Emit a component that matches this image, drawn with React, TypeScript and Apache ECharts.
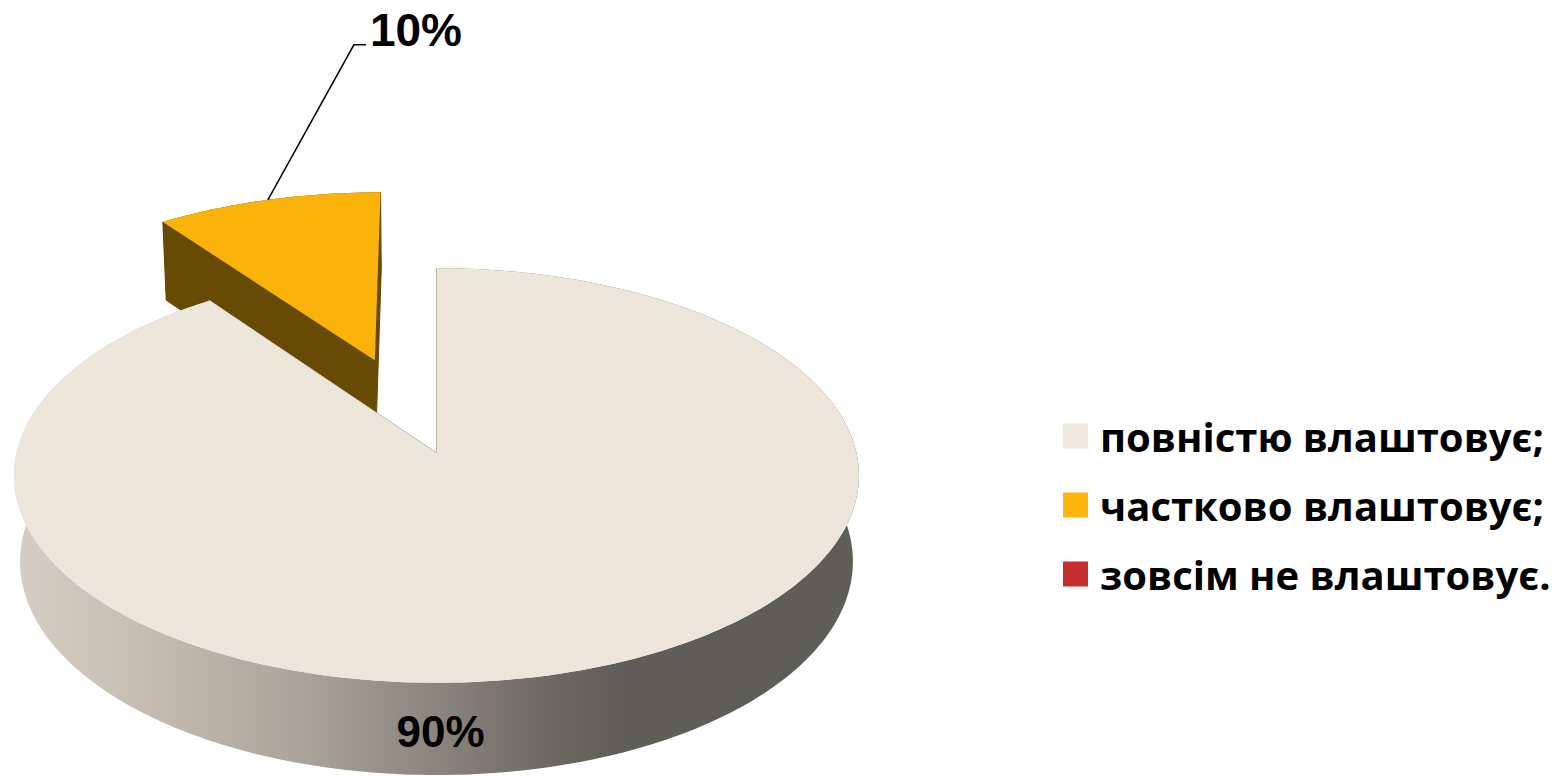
import React, { useEffect, useRef } from "react";
import * as echarts from "echarts";

// ---- data ----
const categories = ["повністю влаштовує;", "частково влаштовує;", "зовсім не влаштовує."];
const values = [90, 10, 0];
const valueLabels = ["90%", "10%", "0%"];
const topColors = ["#ECE6DB", "#FAB30A", "#C62F2F"];
const legendColors = ["#EEE9DF", "#FDB70F", "#C52D2F"];
const explodeOffsets = [0, 0.5, 0];

// ---- 3D projection settings (layout) ----
const CX = 436.5;
const CY = 453;
const FOCAL = 3385;
const DIST = 8.06;
const ALPHA = (29.2 * Math.PI) / 180;
const THICK = 0.237;
const SA = Math.sin(ALPHA);
const CA = Math.cos(ALPHA);

function project(X: number, Y: number, Z: number): number[] {
  const up = Y * CA + Z * SA;
  const d = Z * CA - Y * SA;
  const k = FOCAL / (DIST + d);
  return [CX + X * k, CY - up * k];
}

const sideGradient = new echarts.graphic.LinearGradient(
  13,
  0,
  860,
  0,
  [
    { offset: 0, color: "#D4CFC5" },
    { offset: 0.15, color: "#C7BEB1" },
    { offset: 0.35, color: "#A8A398" },
    { offset: 0.52, color: "#868179" },
    { offset: 0.64, color: "#6B6861" },
    { offset: 0.72, color: "#5F5D57" },
    { offset: 1, color: "#5E5D56" },
  ],
  true
);
const wallFills: any[] = [sideGradient, "#674A03", "#7A1C1C"];

function makeRenderItem(i: number) {
  return (params: any, api: any) => {
    const total = values.reduce((a, b) => a + b, 0);
    const v = api.value(0);
    if (!(v > 0)) return { type: "group", children: [] };
    const before = values.slice(0, i).reduce((a, b) => a + b, 0);
    const a0 = (before / total) * Math.PI * 2;
    const a1 = a0 + (v / total) * Math.PI * 2;
    const mid = (a0 + a1) / 2;
    const ox = explodeOffsets[i] * Math.sin(mid);
    const oz = explodeOffsets[i] * Math.cos(mid);
    const n = Math.max(8, Math.ceil(((a1 - a0) * 180) / Math.PI));
    const topArc: number[][] = [];
    const botArc: number[][] = [];
    for (let k = 0; k <= n; k++) {
      const t = a0 + ((a1 - a0) * k) / n;
      const X = ox + Math.sin(t);
      const Z = oz + Math.cos(t);
      topArc.push(project(X, 0, Z));
      botArc.push(project(X, -THICK, Z));
    }
    const cTop = project(ox, 0, oz);
    const cBot = project(ox, -THICK, oz);
    const wallFill = wallFills[i];
    const children: any[] = [];
    children.push({
      type: "polygon",
      shape: { points: [cTop, topArc[0], botArc[0], cBot] },
      style: { fill: wallFill, stroke: wallFill, lineWidth: 1 },
    });
    children.push({
      type: "polygon",
      shape: { points: [cTop, topArc[n], botArc[n], cBot] },
      style: { fill: wallFill, stroke: wallFill, lineWidth: 1 },
    });
    children.push({
      type: "polygon",
      shape: { points: topArc.concat(botArc.slice().reverse()) },
      style: { fill: wallFill },
    });
    children.push({
      type: "polygon",
      shape: { points: [cTop].concat(topArc) },
      style: { fill: topColors[i] },
    });
    if (i === 0) {
      const p = project(Math.sin(Math.PI), -THICK / 2, Math.cos(Math.PI));
      children.push({
        type: "text",
        x: p[0] + 4,
        y: p[1] + 2,
        style: {
          text: valueLabels[i],
          fill: "#000",
          fontSize: 44,
          fontWeight: "bold",
          fontFamily: '"Liberation Sans", Arial, sans-serif',
          align: "center",
          verticalAlign: "middle",
        },
      });
    } else {
      const s = project(ox + Math.sin(mid), 0, oz + Math.cos(mid));
      const elbow = [s[0] + 86, s[1] - 155];
      const end = [elbow[0] + 12, elbow[1]];
      children.push({
        type: "polyline",
        shape: { points: [s, elbow, end] },
        style: { stroke: "#000", lineWidth: 1.5, fill: null },
      });
      children.push({
        type: "text",
        x: end[0] + 4,
        y: elbow[1] - 15,
        style: {
          text: valueLabels[i],
          fill: "#000",
          fontSize: 46,
          fontWeight: "bold",
          fontFamily: '"Liberation Sans", Arial, sans-serif',
          align: "left",
          verticalAlign: "middle",
        },
      });
    }
    return { type: "group", children };
  };
}

const seriesZ = [3, 2, 1];

export default function App() {
  const ref = useRef<HTMLDivElement>(null);
  useEffect(() => {
    if (!ref.current) return;
    const chart = echarts.init(ref.current, undefined, { renderer: "svg" });
    chart.setOption({
      animation: false,
      backgroundColor: "#ffffff",
      legend: {
        orient: "vertical",
        left: 1063,
        top: 412,
        padding: 0,
        itemWidth: 25,
        itemHeight: 25,
        itemGap: 21,
        icon: "rect",
        selectedMode: false,
        textStyle: {
          fontFamily: '"Open Sans", "Noto Sans", sans-serif',
          fontWeight: "bold",
          fontSize: 40,
          lineHeight: 48,
          color: "#000",
          padding: [0, 0, 0, 7],
        },
        data: categories.map((c, i) => ({ name: c, itemStyle: { color: legendColors[i] } })),
      },
      series: categories.map((c, i) => ({
        type: "custom",
        name: c,
        coordinateSystem: "none",
        z: seriesZ[i],
        itemStyle: { color: legendColors[i] },
        renderItem: makeRenderItem(i),
        data: [values[i]],
      })),
    });
    return () => chart.dispose();
  }, []);
  return (
    <div
      ref={ref}
      style={{ position: "absolute", left: 0, top: 0, width: 1566, height: 776 }}
    />
  );
}
